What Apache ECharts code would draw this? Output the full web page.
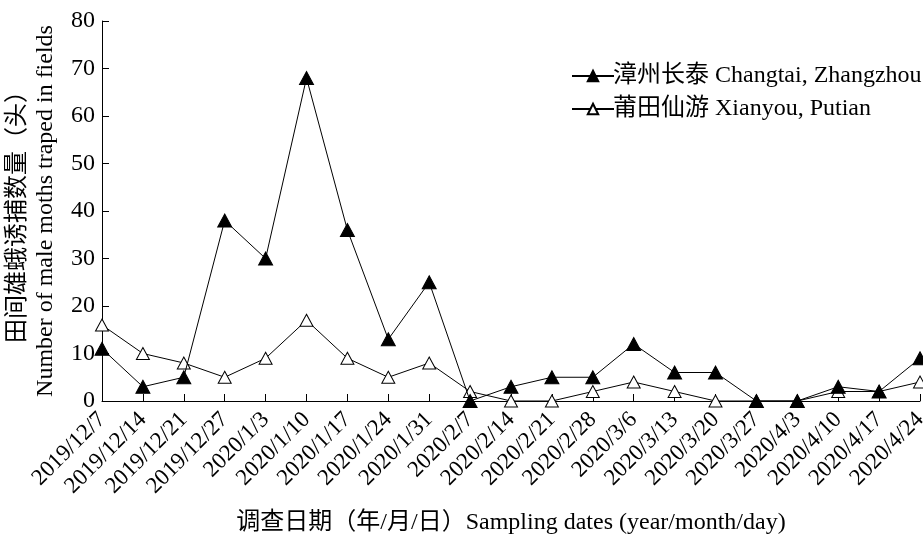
<!DOCTYPE html>
<html>
<head>
<meta charset="utf-8">
<script src="https://cdn.jsdelivr.net/npm/echarts@6/dist/echarts.min.js"></script>
<style>
  html, body { margin: 0; padding: 0; background: #fff; }
  #chart { width: 923px; height: 534px; }
</style>
</head>
<body>
<div id="chart"></div>
<script>
// Weekly sampling dates (year/month/day)
const dates = [
  '2019/12/7', '2019/12/14', '2019/12/21', '2019/12/27', '2020/1/3', '2020/1/10',
  '2020/1/17', '2020/1/24', '2020/1/31', '2020/2/7', '2020/2/14', '2020/2/21',
  '2020/2/28', '2020/3/6', '2020/3/13', '2020/3/20', '2020/3/27', '2020/4/3',
  '2020/4/10', '2020/4/17', '2020/4/24'
];

// Male moths trapped per date at each site
const changtai = [11, 3, 5, 38, 30, 68, 36, 13, 25, 0, 3, 5, 5, 12, 6, 6, 0, 0, 3, 2, 9];
const xianyou  = [16, 10, 8, 5, 9, 17, 9, 5, 8, 2, 0, 0, 2, 4, 2, 0, 0, 0, 2, 2, 4];

const seriesNames = ['漳州长泰 Changtai, Zhangzhou', '莆田仙游 Xianyou, Putian'];
const yTicks = { min: 0, max: 80, interval: 10 };

const FONT = "'Liberation Serif', 'Times New Roman', 'Noto Sans CJK SC', serif";
const FS = 24;

const chart = echarts.init(document.getElementById('chart'), null, { renderer: 'canvas' });

chart.setOption({
  backgroundColor: '#ffffff',
  animation: false,
  textStyle: { fontFamily: FONT, color: '#000' },
  grid: {
    left: 102, right: 3, top: 21, bottom: 133,
    containLabel: false,
    outerBoundsMode: 'none'
  },
  legend: {
    left: 566,
    top: 59,
    orient: 'vertical',
    itemWidth: 42,
    itemHeight: 13,
    itemGap: 9,
    textStyle: { fontFamily: FONT, fontSize: FS, color: '#000', padding: [0, 0, 0, -6] },
    data: seriesNames
  },
  xAxis: {
    type: 'category',
    data: dates,
    boundaryGap: false,
    name: '调查日期（年/月/日）Sampling dates (year/month/day)',
    nameLocation: 'middle',
    nameGap: 110,
    nameTextStyle: { fontFamily: FONT, fontSize: FS, color: '#000' },
    axisLine: { lineStyle: { color: '#000', width: 1 } },
    axisTick: { inside: true, length: 7, alignWithLabel: true, lineStyle: { color: '#000' } },
    axisLabel: {
      interval: 0,
      rotate: 45,
      margin: 15,
      fontFamily: FONT,
      fontSize: 23,
      color: '#000'
    },
    splitLine: { show: false }
  },
  yAxis: {
    type: 'value',
    min: yTicks.min,
    max: yTicks.max,
    interval: yTicks.interval,
    name: '田间雄蛾诱捕数量（头）\nNumber of male moths traped in fields',
    nameLocation: 'middle',
    nameGap: 33,
    nameTextStyle: {
      fontFamily: FONT,
      fontSize: FS,
      color: '#000',
      lineHeight: 28
    },
    axisLine: { show: true, lineStyle: { color: '#000', width: 1 } },
    axisTick: { show: true, inside: true, length: 7, lineStyle: { color: '#000' } },
    axisLabel: { margin: 7, fontFamily: FONT, fontSize: FS, color: '#000' },
    splitLine: { show: false }
  },
  series: [
    {
      name: seriesNames[0],
      type: 'line',
      data: changtai,
      symbol: 'triangle',
      symbolSize: [14, 13],
      showAllSymbol: true,
      lineStyle: { color: '#000', width: 1 },
      itemStyle: { color: '#000', borderColor: '#000', borderWidth: 1 },
      z: 3
    },
    {
      name: seriesNames[1],
      type: 'line',
      data: xianyou,
      symbol: 'triangle',
      symbolSize: [13, 12],
      showAllSymbol: true,
      lineStyle: { color: '#000', width: 1 },
      itemStyle: { color: '#fff', borderColor: '#000', borderWidth: 1 },
      z: 2
    }
  ]
});
</script>
</body>
</html>
